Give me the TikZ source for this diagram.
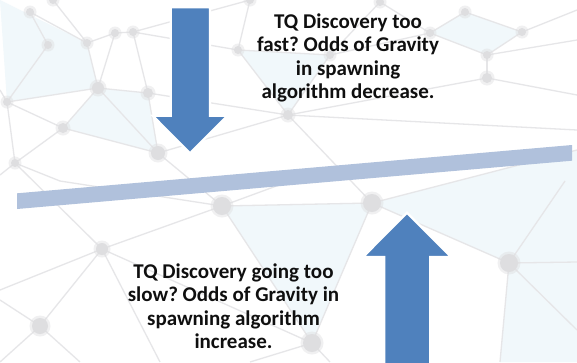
\documentclass[tikz,border=0pt]{standalone}
\usepackage{fontspec}
\setmainfont{Carlito}
\frenchspacing
\definecolor{arrowblue}{RGB}{79,129,189}
\definecolor{barblue}{RGB}{176,193,220}
\definecolor{netline}{RGB}{230,230,232}
\definecolor{netdot}{RGB}{222,222,224}
\definecolor{tint}{RGB}{241,248,251}
\definecolor{inktext}{RGB}{15,15,15}
\tikzset{
  netedge/.style={draw=netline, line width=1.3pt},
  netnode/.style={fill=netdot},
  nethalo/.style={fill=netdot, opacity=0.45},
  tintpatch/.style={fill=tint},
  bigarrow/.style={fill=arrowblue, draw=white, line width=2.2pt, line join=miter},
  balancebar/.style={fill=barblue},
  caption/.style={align=center, text=inktext, font=\bfseries\fontsize{21}{23.5}\selectfont, inner sep=0pt}
}
\begin{document}
\begin{tikzpicture}[x=1pt,y=-1pt]
\useasboundingbox (0,0) rectangle (577,362);
\fill[white] (0,0) rectangle (577,362);

% faint tinted facets of the background mesh
\fill[tintpatch] (0,0) -- (87,43) -- (98,88) -- (7,102) -- cycle;
\fill[tintpatch] (98,88) -- (148,93) -- (158,153) -- (63,128) -- cycle;
\fill[tintpatch] (238,50) -- (330,55) -- (288,115) -- cycle;
\fill[tintpatch] (430,33) -- (465,12) -- (522,32) -- (487,55) -- cycle;
\fill[tintpatch] (372,203) -- (577,150) -- (577,262) -- (509,263) -- cycle;
\fill[tintpatch] (509,263) -- (577,262) -- (577,362) -- (500,362) -- cycle;
\fill[tintpatch] (222,206) -- (372,203) -- (312,343) -- cycle;

% background mesh: coordinates of the dots
\foreach \n/\p in {a/{30,12}, b/{48,45}, c/{87,43}, d/{115,33}, e/{133,32},
                   f/{98,88}, g/{148,93}, h/{7,102}, i/{63,128}, j/{158,153},
                   k/{15,163}, l/{238,50}, m/{288,115}, o/{380,2}, p/{465,12},
                   q/{522,32}, r/{487,55}, s/{487,78}, t/{430,33}, u/{222,206},
                   v/{102,249}, w/{40,326}, x/{372,203}, y/{509,263}, z/{312,343},
                   aa/{330,55}, ab/{53,0}, ac/{250,0}}
  \coordinate (\n) at (\p);

% background mesh: links
\foreach \s/\e in {a/b, a/c, ab/c, c/d, d/e, c/f, d/f, e/g, f/g, f/h, f/i,
                   b/h, h/i, i/k, i/j, g/j, f/j, h/k, e/l, l/m, g/m, j/m,
                   l/aa, aa/m, ac/e, ac/l, o/aa, o/t, t/p, p/q, q/r, t/r,
                   r/s, s/m, aa/t, j/u, k/v, u/v, u/x, v/w, u/z, x/z,
                   x/y, v/z, m/x}
  \path[netedge] (\s) -- (\e);
\path[netedge] (h) -- (0,90);
\path[netedge] (k) -- (0,175);
\path[netedge] (k) -- (60,181);
\path[netedge] (w) -- (0,300);
\path[netedge] (w) -- (0,362);
\path[netedge] (w) -- (80,362);
\path[netedge] (v) -- (0,290);
\path[netedge] (v) -- (160,362);
\path[netedge] (z) -- (250,362);
\path[netedge] (z) -- (330,362);
\path[netedge] (y) -- (577,262);
\path[netedge] (y) -- (500,362);
\path[netedge] (y) -- (565,181);
\path[netedge] (y) -- (577,330);
\path[netedge] (x) -- (577,150);
\path[netedge] (s) -- (577,95);
\path[netedge] (r) -- (577,40);
\path[netedge] (q) -- (577,10);
\path[netedge] (m) -- (577,130);
\path[netedge] (u) -- (290,181);
\path[netedge] (u) -- (60,181);

% background mesh: soft dots
\foreach \n/\r in {a/4, b/4, c/4, d/4, e/4, f/6, g/5, h/4, i/5, j/7, k/4,
                   l/4, m/5, o/4, p/4, q/4, r/4, s/5, t/4, u/9, v/6, w/8,
                   x/9, y/9, z/9, aa/4, ab/4, ac/4}
  {\fill[nethalo] (\n) circle ({\r+2.5});
   \fill[netnode] (\n) circle (\r);}

% balance beam
\path[balancebar] (17,193.3) -- (572,145) -- (572,160.7) -- (17,209) -- cycle;

% downward arrow
\path[bigarrow] (170.7,7.3) -- (210,7.3) -- (210,115.7) -- (227.5,115.7)
  -- (190,153.3) -- (152.7,115.7) -- (170.7,115.7) -- cycle;

% upward arrow
\path[bigarrow] (384.3,365) -- (384.3,257) -- (363,257) -- (407,212.7)
  -- (451.3,257) -- (430.3,257) -- (430.3,365) -- cycle;

% captions
\node[caption] (fast) at (348,58) {TQ Discovery too\\fast? Odds of Gravity\\in spawning\\algorithm decrease.};
\node[caption] (slow) at (233.5,306) {TQ Discovery going too\\slow? Odds of Gravity in\\spawning algorithm\\increase.};
\end{tikzpicture}
\end{document}
